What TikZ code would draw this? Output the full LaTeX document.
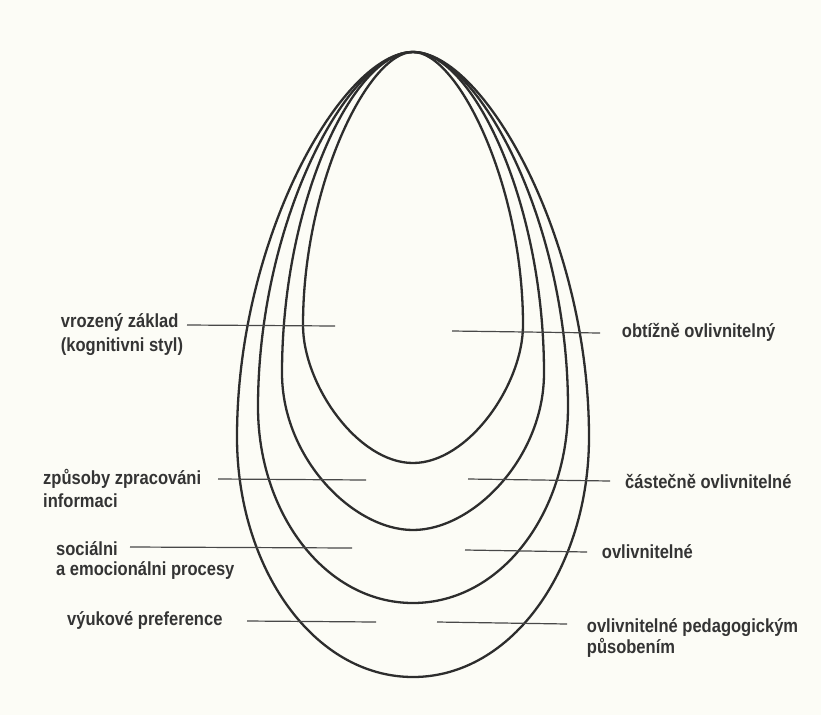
\documentclass[tikz,border=0pt]{standalone}
\usepackage{fontspec}
\newfontfamily\labfont[FakeStretch=0.87]{Liberation Sans}
\definecolor{bg}{RGB}{252,252,246}
\definecolor{eggc}{RGB}{45,45,45}
\definecolor{leadc}{RGB}{72,72,72}
\definecolor{txtc}{RGB}{52,52,52}
\begin{document}
\begin{tikzpicture}[x=1pt,y=1pt,
  egg/.style={draw=eggc,line width=2.3pt},
  leader/.style={draw=leadc,line width=1.2pt},
  lab/.style={anchor=base west,inner sep=0pt,text=txtc,font=\labfont\bfseries\fontsize{19}{22}\selectfont}]
\fill[bg] (0,0) rectangle (821,-715);
\useasboundingbox (0,0) rectangle (821,-715);
% eggs (inner to outer): apex, widest point, bottom
\begin{scope}[shift={(413,0)}]
\draw[egg] (0,-52) .. controls (-45,-52) and (-110,-185) .. (-110,-325)
  .. controls (-110,-385) and (-55,-463) .. (0,-463)
  .. controls (55,-463) and (110,-385) .. (110,-325)
  .. controls (110,-185) and (45,-52) .. cycle;
\draw[egg] (0,-52) .. controls (-60,-52) and (-131,-203) .. (-131,-373)
  .. controls (-131,-458) and (-60,-530) .. (0,-530)
  .. controls (60,-530) and (131,-458) .. (131,-373)
  .. controls (131,-203) and (60,-52) .. cycle;
\draw[egg] (0,-52) .. controls (-65,-52) and (-155,-222) .. (-155,-407)
  .. controls (-155,-513) and (-88,-603) .. (0,-603)
  .. controls (88,-603) and (155,-513) .. (155,-407)
  .. controls (155,-222) and (65,-52) .. cycle;
\draw[egg] (0,-52) .. controls (-70,-52) and (-176,-237) .. (-176,-437)
  .. controls (-176,-567) and (-100,-677) .. (0,-677)
  .. controls (100,-677) and (176,-567) .. (176,-437)
  .. controls (176,-237) and (70,-52) .. cycle;
\end{scope}
% left labels
\node[lab] (vz1) at (60.7,-327) {vrozený základ};
\node[lab] (vz2) at (60.7,-351) {(kognitivni styl)};
\coordinate (vzA) at (187,-325); \coordinate (vzB) at (335,-326);
\draw[leader] (vzA) -- (vzB);
\node[lab] (zp1) at (43,-484) {způsoby zpracováni};
\node[lab] (zp2) at (43,-507) {informaci};
\coordinate (zpA) at (218,-479); \coordinate (zpB) at (366,-480);
\draw[leader] (zpA) -- (zpB);
\node[lab] (so1) at (56,-555) {sociálni};
\node[lab] (so2) at (56,-575) {a emocionálni procesy};
\coordinate (soA) at (130,-547); \coordinate (soB) at (352,-548);
\draw[leader] (soA) -- (soB);
\node[lab] (vy1) at (67,-625) {výukové preference};
\coordinate (vyA) at (247,-621); \coordinate (vyB) at (376,-622);
\draw[leader] (vyA) -- (vyB);
% right labels
\node[lab] (ob1) at (621.7,-337) {obtížně ovlivnitelný};
\coordinate (obA) at (452,-331); \coordinate (obB) at (600,-333);
\draw[leader] (obA) -- (obB);
\node[lab] (ca1) at (625,-488) {částečně ovlivnitelné};
\coordinate (caA) at (468,-479); \coordinate (caB) at (610,-481);
\draw[leader] (caA) -- (caB);
\node[lab] (ov1) at (601.7,-558) {ovlivnitelné};
\coordinate (ovA) at (465,-550); \coordinate (ovB) at (587,-552);
\draw[leader] (ovA) -- (ovB);
\node[lab] (pe1) at (586.7,-632) {ovlivnitelné pedagogickým};
\node[lab] (pe2) at (586.7,-653) {působením};
\coordinate (peA) at (437,-622); \coordinate (peB) at (567,-624);
\draw[leader] (peA) -- (peB);
\end{tikzpicture}
\end{document}
